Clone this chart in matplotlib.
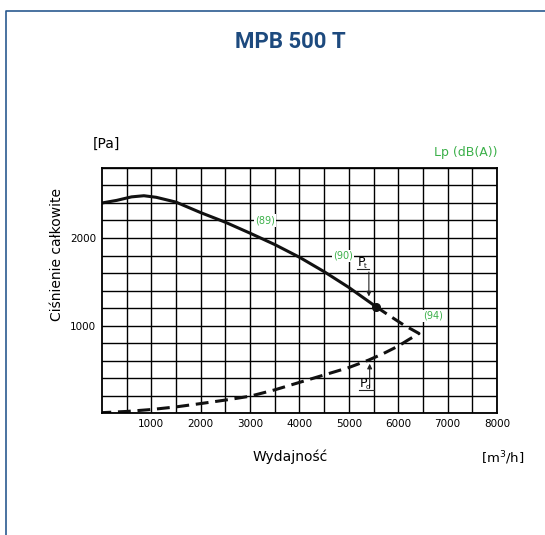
import matplotlib.pyplot as plt
from matplotlib.lines import Line2D

# fan curve, total pressure vs airflow
solid_q = [0, 300, 600, 850, 1100, 1500, 2000, 2500, 3000, 3500, 4000, 4500, 5000, 5550]
solid_p = [2400, 2430, 2470, 2483, 2465, 2410, 2290, 2180, 2055, 1925, 1780, 1615, 1435, 1215]

# dashed continuation and the system curve going back to zero
dash_q = [5550, 5800, 6100, 6420, 6200, 6000, 5700, 5400, 5000, 4500, 4000, 3500, 3000, 2500, 2000, 1500, 1000, 500, 0]
dash_p = [1215, 1120, 1010, 909, 835, 765, 680, 605, 520, 435, 350, 265, 192, 148, 108, 70, 40, 18, 4]

work_q, work_p = 5550, 1215

lp_labels = ["(89)", "(90)", "(94)"]
lp_q = [3300, 4880, 6700]
lp_p = [2200, 1795, 1112]

x_ticks = [1000, 2000, 3000, 4000, 5000, 6000, 7000, 8000]
y_ticks = [1000, 2000]

blue = "#1d4a7e"
green = "#3cb04a"

fig = plt.figure(figsize=(5.45, 5.35), dpi=100)
ax = fig.add_axes([0.187, 0.228, 0.725, 0.458])

ax.set_xlim(0, 8000)
ax.set_ylim(0, 2800)
ax.set_yticks(range(0, 2801, 200))
ax.grid(True, color="black", lw=1.0)
ax.set_xticks(x_ticks + [q for q in range(500, 8000, 1000)])
ax.set_xticklabels([str(t) for t in x_ticks] + [""] * 8)
ax.set_yticklabels([str(t) if t in y_ticks else "" for t in range(0, 2801, 200)])
ax.tick_params(length=0, labelsize=7.5, pad=4)
for s in ax.spines.values():
    s.set_linewidth(1.3)

ax.plot(solid_q, solid_p, color="#111111", lw=2.2, solid_capstyle="round")
ax.plot(dash_q, dash_p, color="#111111", lw=2.2, dashes=(4.2, 2.2))
ax.plot(work_q, work_p, "o", color="#111111", ms=5.5)

for lab, q, p in zip(lp_labels, lp_q, lp_p):
    ax.text(q, p, lab, color=green, fontsize=7, ha="center", va="center",
            bbox=dict(facecolor="white", edgecolor="none", pad=0.8))

# Pt marker
ax.plot([5160, 5405], [1643, 1643], color="#222222", lw=0.8)
ax.annotate("", xy=(5405, 1300), xytext=(5405, 1643),
            arrowprops=dict(arrowstyle="-|>", color="#222222", lw=0.8, mutation_scale=7))
ax.text(5175, 1650, "P", fontsize=9, va="bottom", ha="left")
ax.text(5300, 1650, "t", fontsize=5, va="bottom", ha="left")

# Pd marker
ax.plot([5200, 5500], [258, 258], color="#222222", lw=0.8)
ax.annotate("", xy=(5421, 595), xytext=(5421, 258),
            arrowprops=dict(arrowstyle="-|>", color="#222222", lw=0.8, mutation_scale=7))
ax.text(5215, 265, "P", fontsize=9, va="bottom", ha="left")
ax.text(5340, 265, "d", fontsize=5, va="bottom", ha="left")

fig.text(106 / 545, 1 - 144 / 535, "[Pa]", fontsize=10, ha="center", va="center")
fig.text(466 / 545, 1 - 152 / 535, "Lp (dB(A))", fontsize=9, color=green, ha="center", va="center")
fig.text(57 / 545, 1 - 255 / 535, "Ciśnienie całkowite", fontsize=10, rotation=90,
         ha="center", va="center")
fig.text(290 / 545, 1 - 457 / 535, "Wydajność", fontsize=10, ha="center", va="center")
fig.text(503 / 545, 1 - 458 / 535, "[m$^3$/h]", fontsize=9.5, ha="center", va="center")

fig.text(290 / 545, 1 - 42 / 535, "MPB 500 T", fontsize=16, fontweight="bold", color=blue,
         ha="center", va="center", family=["Roboto", "DejaVu Sans"])

# blue frame
fig.add_artist(Line2D([6 / 545, 6 / 545, 1], [0, 1 - 11 / 535, 1 - 11 / 535],
                      color="#2a5a90", lw=1.2, transform=fig.transFigure))

fig.savefig("out.png", dpi=100)
